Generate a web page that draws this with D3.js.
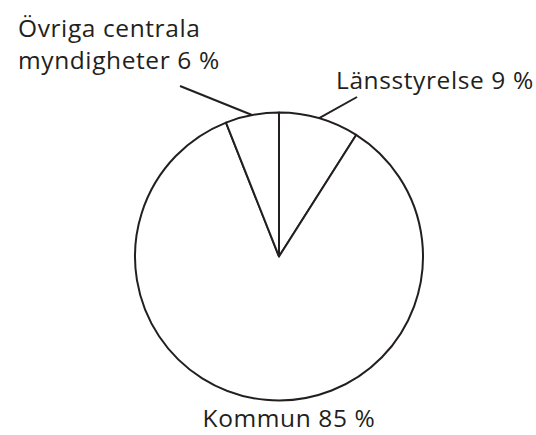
<!DOCTYPE html>
<html>
<head>
<meta charset="utf-8">
<script src="https://cdn.jsdelivr.net/npm/d3@7"></script>
<style>
  body { margin: 0; background: #fff; }
  text { font-family: "Open Sans", sans-serif; fill: #231f20; letter-spacing: 0.6px; }
</style>
</head>
<body>
<svg id="chart" width="536" height="435"></svg>
<script>
const categories = ["Länsstyrelse", "Kommun", "Övriga centrala myndigheter"];
const shares = [9, 85, 6];

const svg = d3.select("#chart");
const cx = 279, cy = 256.5, radius = 144;

const pie = d3.pie().sort(null).value((d) => d.value);
const arc = d3.arc().innerRadius(0).outerRadius(radius);

const data = categories.map((name, i) => ({ name, value: shares[i] }));
const arcs = pie(data);

const g = svg.append("g").attr("transform", `translate(${cx}, ${cy})`);

g.selectAll("path")
  .data(arcs)
  .join("path")
  .attr("d", arc)
  .attr("fill", "#fff")
  .attr("stroke", "#231f20")
  .attr("stroke-width", 2)
  .attr("stroke-linejoin", "round");

// leader lines (from slice midpoint on the rim outward)
const leaders = [
  { i: 0, end: [357, 97] },
  { i: 2, end: [180, 86] },
];
leaders.forEach(({ i, end }) => {
  const a = (arcs[i].startAngle + arcs[i].endAngle) / 2;
  const p = [cx + radius * Math.sin(a), cy - radius * Math.cos(a)];
  svg.append("line")
    .attr("x1", p[0]).attr("y1", p[1])
    .attr("x2", end[0]).attr("y2", end[1])
    .attr("stroke", "#231f20")
    .attr("stroke-width", 2);
});

const fmt = (i) => `${shares[i]} %`;
const FS = 24.5;

svg.append("text")
  .attr("x", 18).attr("y", 37)
  .attr("font-size", FS)
  .text("Övriga centrala");
svg.append("text")
  .attr("x", 18).attr("y", 69)
  .attr("font-size", FS)
  .text(`myndigheter ${fmt(2)}`);

svg.append("text")
  .attr("x", 336).attr("y", 89)
  .attr("font-size", FS)
  .text(`${categories[0]} ${fmt(0)}`);

svg.append("text")
  .attr("x", 289).attr("y", 427)
  .attr("text-anchor", "middle")
  .attr("font-size", FS)
  .text(`${categories[1]} ${fmt(1)}`);
</script>
</body>
</html>
